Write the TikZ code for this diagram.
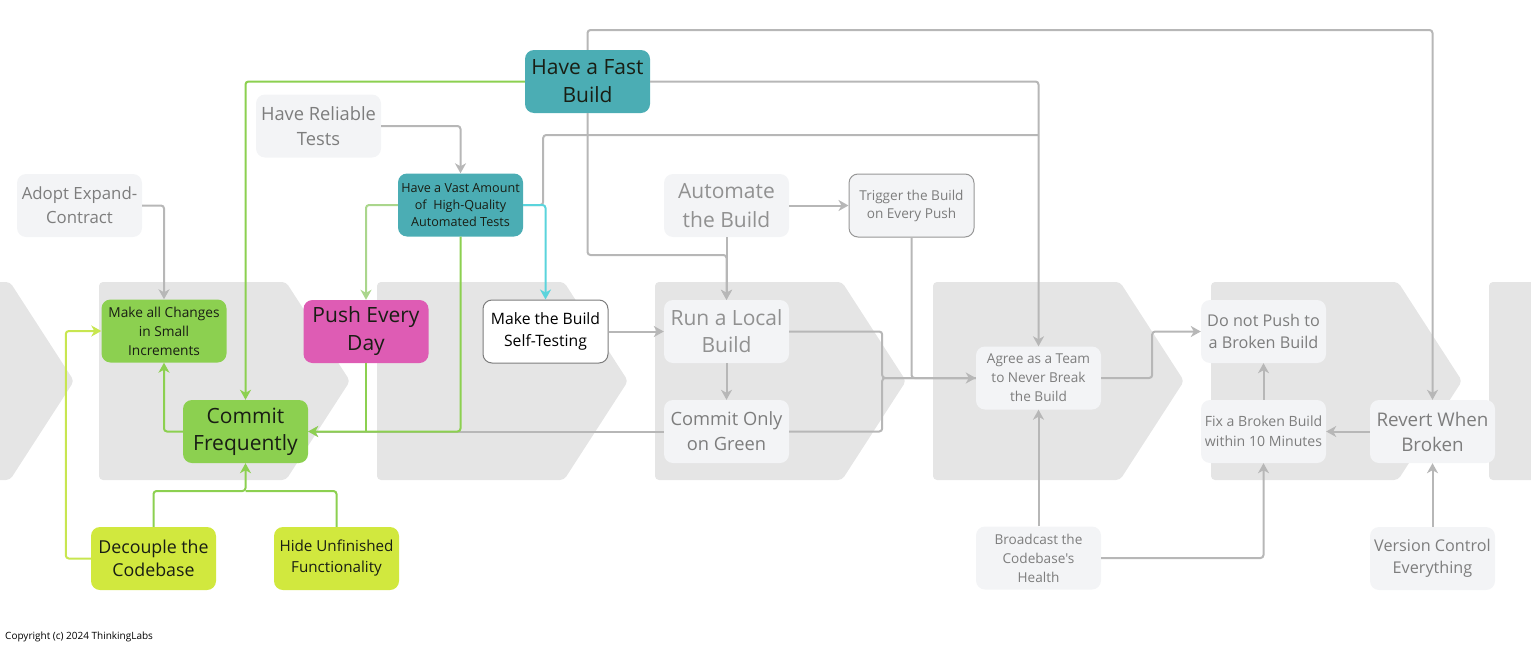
\documentclass[tikz,border=0pt]{standalone}
\usepackage{fontspec}
\setmainfont{Open Sans}[Ligatures=TeXOff]
\usetikzlibrary{arrows.meta}
\definecolor{teal}{RGB}{75,173,180}
\definecolor{leaf}{RGB}{140,208,80}
\definecolor{magen}{RGB}{222,92,180}
\definecolor{lime}{RGB}{209,232,62}
\definecolor{lightbg}{RGB}{243,244,246}
\definecolor{chev}{RGB}{229,229,229}
\definecolor{linegray}{RGB}{183,183,183}
\definecolor{graytext}{RGB}{125,125,125}
\definecolor{darktext}{RGB}{25,30,20}
\definecolor{lineleaf}{RGB}{140,208,80}
\definecolor{lineleaf2}{RGB}{170,214,140}
\definecolor{linelime}{RGB}{200,230,80}
\definecolor{cyanline}{RGB}{90,212,220}
\newcommand{\fz}[2]{\fontsize{#1}{#2}\selectfont}
\tikzset{
  box/.style={rounded corners=9pt, minimum width=125pt, minimum height=63pt, inner sep=2pt, align=center},
  light/.style={box, fill=lightbg, text=graytext},
  tealbox/.style={box, fill=teal, text=darktext},
  leafbox/.style={box, fill=leaf, text=darktext},
  limebox/.style={box, fill=lime, text=darktext},
  conn/.style={draw=linegray, line width=2pt, rounded corners=3pt},
  arr/.style={-{Stealth[length=10pt,width=11pt,inset=3pt]}},
  gconn/.style={draw=lineleaf, line width=2pt, rounded corners=3pt},
  chevron/.style={fill=chev, rounded corners=4pt},
}
\begin{document}
\begin{tikzpicture}[x=1pt,y=-1pt]
\useasboundingbox (0,0) rectangle (1531,653);
% chevrons
\foreach \L in {-177,99,377,655,933,1211,1489}{
  \fill[chevron] (\L,282) -- (\L+187,282) -- (\L+251,381) -- (\L+187,480) -- (\L,480) -- cycle;
}
% nodes
\node[tealbox, font=\fz{21}{28}] (fast) at (587.5,81.5) {Have a Fast\\Build};
\node[light, font=\fz{18.3}{25}] (reliable) at (318.5,126) {Have Reliable\\Tests};
\node[light, font=\fz{16.8}{24}] (adopt) at (79.5,205.5) {Adopt Expand-\\Contract};
\node[tealbox, font=\fz{12.6}{17}] (vast) at (460.5,205) {Have a Vast Amount\\of~ High-Quality\\Automated Tests};
\node[light, font=\fz{21}{29}, text=graytext!85] (automate) at (726.5,205.5) {Automate\\the Build};
\node[light, draw=graytext!80, line width=1pt, font=\fz{13.6}{18}] (trigger) at (911.5,205.5) {Trigger the Build\\on Every Push};
\node[leafbox, font=\fz{13.7}{19}] (small) at (164,331) {Make all Changes\\in Small\\Increments};
\node[box, fill=magen, text=darktext, font=\fz{21}{28}] (push) at (366,331.5) {Push Every\\Day};
\node[box, fill=white, draw=graytext, line width=1pt, text=black, font=\fz{15.7}{22}] (selftest) at (545.5,331.5) {Make the Build\\Self-Testing};
\node[light, font=\fz{21}{27}, text=graytext!85] (runlocal) at (726.5,331.5) {Run a Local\\Build};
\node[leafbox, font=\fz{21}{27}] (commitfreq) at (245.5,431.5) {Commit\\Frequently};
\node[light, font=\fz{18.3}{25}] (green) at (726.5,431.5) {Commit Only\\on Green};
\node[light, font=\fz{13.6}{19}] (agree) at (1038.5,378) {Agree as a Team\\to Never Break\\the Build};
\node[light, font=\fz{16.2}{22}] (donot) at (1263.5,331.5) {Do not Push to\\a Broken Build};
\node[light, font=\fz{14.1}{20}] (fix) at (1263.5,431.5) {Fix a Broken Build\\within 10 Minutes};
\node[light, font=\fz{18.8}{25}] (revert) at (1432.5,431.5) {Revert When\\Broken};
\node[limebox, font=\fz{17.8}{23}] (decouple) at (153.5,558.5) {Decouple the\\Codebase};
\node[limebox, font=\fz{15.2}{21}] (hide) at (336.5,558.5) {Hide Unfinished\\Functionality};
\node[light, font=\fz{13.6}{19}] (broadcast) at (1038.5,558) {Broadcast the\\Codebase's\\Health};
\node[light, font=\fz{16.2}{22}] (vc) at (1432.5,558.5) {Version Control\\Everything};
\node[anchor=west, inner sep=0pt, font=\fz{10}{12}, text=black] (copy) at (5,637) {Copyright (c) 2024 ThinkingLabs};
% helper coordinates
\coordinate (ytop) at (0,30);
\coordinate (ymid) at (0,135);
\coordinate (yrun) at (0,255);
\coordinate (ybot) at (0,491);
% gray connectors
\draw[conn,arr] (reliable.east) -| (vast.north);
\draw[conn,arr] (adopt.east) -| (small.north);
\draw[conn,arr] (fast.north) -- (fast.north |- ytop) -| (revert.north);
\draw[conn,arr] (fast.east) -| (agree.north);
\draw[conn,arr] (fast.south) -- (fast.south |- yrun) -| (runlocal.north);
\draw[conn,arr] (automate.south) -- (runlocal.north);
\draw[conn] (vast.east) -- ++(20,0) |- (agree.north |- ymid);
\draw[conn,arr] (automate.east) -- (trigger.west);
\draw[conn,arr] (trigger.south) |- (agree.west);
\draw[conn,arr] (selftest.east) -- (runlocal.west);
\draw[conn,arr] (runlocal.south) -- (green.north);
\draw[conn] (runlocal.east) -- ++(93,0) |- (agree.west);
\draw[conn] (green.east) -- ++(93,0) |- (agree.west);
\draw[conn,arr] (green.west) -- (commitfreq.east);
\draw[conn,arr] (agree.east) -- ++(51,0) |- (donot.west);
\draw[conn,arr] (broadcast.north) -- (agree.south);
\draw[conn,arr] (broadcast.east) -| (fix.south);
\draw[conn,arr] (fix.north) -- (donot.south);
\draw[conn,arr] (revert.west) -- (fix.east);
\draw[conn,arr] (vc.north) -- (revert.south);
% coloured connectors
\draw[conn,arr,draw=cyanline] (vast.east) -| (selftest.north);
\draw[gconn,arr] (fast.west) -| (commitfreq.north);
\draw[gconn,arr,draw=lineleaf2] (vast.west) -| (push.north);
\draw[gconn,arr] (vast.south) |- (commitfreq.east);
\draw[gconn] (push.south) -- (push.south |- commitfreq.east);
\draw[gconn,arr] (commitfreq.west) -| (small.south);
\draw[gconn,arr] (decouple.north) -- (decouple.north |- ybot) -| (commitfreq.south);
\draw[gconn] (hide.north) -- (hide.north |- ybot) -- (commitfreq.south |- ybot);
\draw[gconn,arr,draw=linelime] (decouple.west) -- ++(-25,0) |- (small.west);
\end{tikzpicture}
\end{document}
